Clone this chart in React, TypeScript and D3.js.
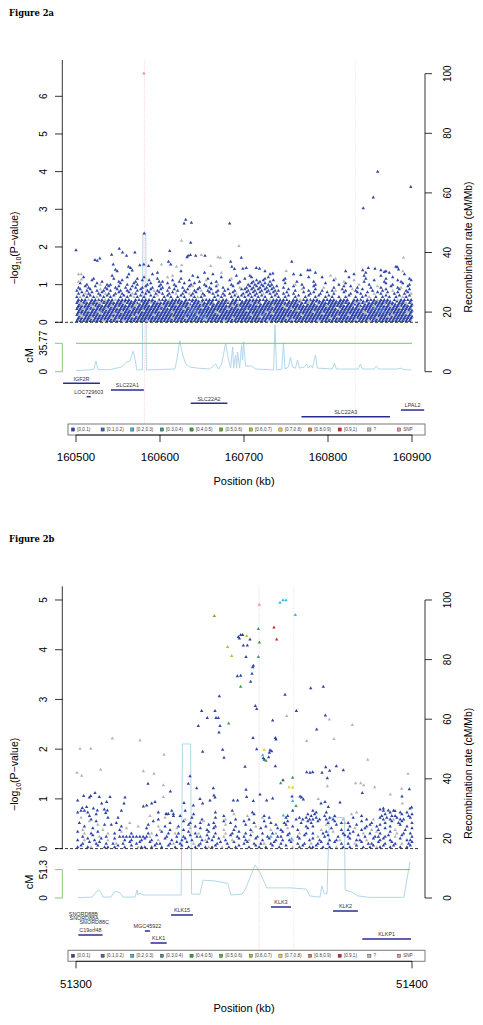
import React from 'react';
import * as d3 from 'd3';

type Pair = [number, number];
type Triple = [number, number, number];
type GridRow = [number, number, string];
type Gene = { name: string; start: number; end: number; row: number };

const LD_LABELS = ['[0,0.1)', '[0.1,0.2)', '[0.2,0.3)', '[0.3,0.4)', '[0.4,0.5)', '[0.5,0.6)', '[0.6,0.7)', '[0.7,0.8)', '[0.8,0.9)', '[0.9,1)', '?', 'SNP'];
const LD_COLORS = ['#2f45a6', '#3d63c2', '#3fb3e6', '#3f9690', '#3e9e3e', '#6aae2c', '#b4c52a', '#e5d52a', '#e8782c', '#d9252b', '#b5b5b5', '#ef8d9a'];
// grid characters: lower case = point at the row value, upper case = point half a row higher
const GRID_CODES: Record<string, number> = { x: 0, l: 1, c: 2, o: 10 };

// ---------------- Figure 2a ----------------
const aTitle = 'Figure 2a';
const aRange: Pair = [160500, 160900];
const aXTicks = [160500, 160600, 160700, 160800, 160900];
const aYMax = 6.6;
const aYTicks = [0, 1, 2, 3, 4, 5, 6];
const aCmMax = 35.77;
const aIndexSnp: Pair = [160580.8, 6.61];
const aMarkers = [160581.4, 160832.5];
const aMap: Pair[] = [[160500, 35.77], [160900, 35.77]];
const aRecomb: Pair[] = [
  [160500, 0.4], [160516.6, 0.6], [160521.4, 0.9], [160523.8, 3.6], [160526.1, 0.7], [160540.4, 0.7],
  [160554.6, 1.6], [160559.4, 3.1], [160564.1, 3.6], [160568.1, 6.9], [160570.1, 4.6], [160572.4, 0.6],
  [160579, 0.6], [160579.6, 46.5], [160583.1, 46.5], [160583.7, 0.6], [160617.6, 0.9], [160620, 3.9],
  [160623.5, 10.4], [160627.1, 5.6], [160630.6, 2.6], [160635.4, 1.6], [160644.9, 1.2], [160659.1, 0.9],
  [160666.3, 2.6], [160669.8, 0.9], [160673.4, 2.6], [160678.1, 9.5], [160681.7, 3.9], [160684.1, 1.2],
  [160686.5, 8.3], [160687.6, 1.2], [160690, 5.6], [160691.2, 1.2], [160692.4, 6.6], [160694.8, 1.2],
  [160697.1, 9.0], [160698.3, 3.9], [160699.5, 10], [160701.9, 1.9], [160709, 1.9], [160713.8, 0.9],
  [160735.2, 0.6], [160736.9, 15.7], [160738.7, 0.6], [160745, 0.9], [160747, 9.6], [160748.8, 0.9],
  [160753, 1.6], [160755.3, 4.9], [160757.7, 1.6], [160761.3, 1.2], [160763.7, 3.9], [160766, 1.2],
  [160772, 1.6], [160774.3, 2.6], [160776.7, 1.2], [160779.1, 2.2], [160781.5, 1.2], [160785, 5.6],
  [160787.4, 1.2], [160805.2, 0.9], [160807.6, 2.9], [160810, 0.9], [160836.1, 0.9], [160838.5, 2.6],
  [160840.9, 0.9], [160855.1, 0.9], [160857.5, 1.9], [160859.9, 0.9], [160882.4, 0.9], [160886.0, 1.2],
  [160890.7, 0.7], [160899, 0.6],
];
const aGenes: Gene[] = [
  { name: 'IGF2R', start: 160484.6, end: 160528.5, row: 0 },
  { name: 'SLC22A1', start: 160541.6, end: 160580.8, row: 1 },
  { name: 'LOC729603', start: 160512.7, end: 160517.5, row: 2 },
  { name: 'SLC22A2', start: 160636.6, end: 160680.2, row: 3 },
  { name: 'LPAL2', start: 160886.8, end: 160914.5, row: 4 },
  { name: 'SLC22A3', start: 160768.4, end: 160873.8, row: 5 },
];
const aGeneRows = 6;
const aGridStep = 4;
const aGridHalf = 0.04;
const aGrid: GridRow[] = [
  [1.32, 160501, '.......... ..X....... ....x..... .X......x. ...o...... ......X... .......... .x........ X.....x... ...x...O..'],
  [1.24, 160503, 'O......... x....X.... ..X.....o. ....x..... X......x.. .x.....X.. ....X..... .....o.... ..X..x.... x......X..'],
  [1.16, 160501, '..X..x.... .x...X..x. X...x..O.. .x....X..x ...X..o... x.X...xX.. ..x......X ...X...o.. .X....x... ..x.X....x'],
  [1.08, 160503, 'o...X..x.. ..xX...x.X .X..xx..X. x..X..x.O. .x...X..x. ..xXxX.xX. .X...x.... x.....X..o ..O..x..X. .x...Xx..X'],
  [1.00, 160501, '.X.x..Xo.x x..X.x.Xx. .xX..x.X.x ..X.xX..x. X.o...x.X. .xXxXxXxx. ..X..o.x.. .x..X...x. X...o..x.. ..X.x..X.x'],
  [0.92, 160503, 'x.Xx.X..xX .xX.x.Xx.x X.x.Xx.x.X .x.XO.x.Xx .X.x..X.o. xXxXxXxXxX .x..X..x.. X..o..x..X .X.x...x.O x..X.xo.X.'],
  [0.84, 160501, 'xX.xX.xOxX x.Xx.xX.xX .xXoxX.x.X x.xX.xXo.x X.x.xX.x.X XxXxXxXxXx x..X.x.O.x .X.x..xo.X x.Ox.X..x. .xX.o.X.xX'],
  [0.76, 160503, 'xXoxX.xXox .xXx.Xox.X xX.xXx.xXo .xXoxX.x.X xX.x.xXo.x XxXxXoXxXx .xX.x..X.x X.x.X.x..X .x.Xx.X.oX x.X.xX.xXo'],
  [0.68, 160501, 'xoXxXxoXxX xX.xXxXoxX x.XxO.xXx. xXx.XxoxX. .xXxX.xXxX xXxXxXx.xX x.xX.xX.xX .xX.xXx.x. xX.x.xXo.x .xXx.xXoxX'],
  [0.60, 160503, 'xxxoxxxxox xoxxxx.xxx xxx.xxxoxx x.xxxx.xxx xxoxx.xxx. xxxxxxxoxx xxx.xxoxxx xx.xxxx.xx x.xxx.xxxo xxx.xoxxxx'],
  [0.56, 160502, 'xxx.xxoxxx x.xxxxxx.x xxxxo.xxxx xxx.xxxx.x x.xxxoxx.x xxxxx.xxxx xx.xxxx.xo xxxx.xxxxx x.xxoxx.xx xxxx.xxx.x'],
  [0.52, 160501, 'xoxxxxxoxx xxxxoxxxx. xxoxxxxxxx xxxx.xxoxx x.xxxxxxox xxoxx.xxxx xxxxxx.xxo x.xxxxxxxx xxxoxx.xxx xxxxx.xxox'],
  [0.48, 160504, 'xoxxxxx.xx xxxx.xxoxx x.xxxxxxxo xxxxxlxxxx xxxx.xxxxx xxxoxxxxxx xxxxxxx.xx xoxxxxxxx. xxxx.xxxxx xoxxxxxx.x'],
  [0.44, 160503, 'xxxxoxxxxx oxxxxxxoxx xxxxxoxxxx xxxoxxxxx. xxxxxxoxxx xxxxxxxxox xoxxxxxxxx xxxxoxxxxx xx.xxxxxox xxxoxxxxxx'],
  [0.40, 160502, 'xxxxxoxxxx xxoxxxxxxx xxxxxxx.xx xlxxxxxoxx xxxxxxxxox xxxxxxxxxx xxoxxxxxxx xxxxxxx.xx xxxxoxxxxl lxxxxxoxxx'],
  [0.36, 160501, 'xxoxxxxxxo xxxxxxoxxx xxxxxxxxxx xxoxllxxxx xxxxxoxxxx xxxxlxxxxx xxxxoxxxxx xxxxxxxxox xxxxxxxxll xlxxxxxxxx'],
  [0.32, 160504, 'xxxoxxxxxx xxxxxxxxxo xxxxoxxxxx xxxxllxxxx xxxxxxxxxx oxxxxxxlxx xxxxxoxxxx xxxxxxxxxx xxxxxxxxxx lxxxxxxxxx'],
  [0.28, 160503, 'xxxxxxoxxx xxxoxxxxxx xxxxxxxxox xxxlllxxxx xoxxxxxxxx xxxxxxoxlx xxxxxxxxxx oxxxxxxxxx xxxxxoxxxl llxlxxxxox'],
  [0.24, 160502, 'xxxxxxxoxx xoxxxxxxxx xxxxxxxxxx xxxlxxxxlx xxoxxxxxxx xxxxxxxxox xxxxxxxxxx xxxoxxxxxx xxxxxxoxxx xxxxxxxxox'],
  [0.20, 160501, 'xoxxxxxxxx xxxxxxxxox xxxoxxxxxx xxlxxxoxlx xxxxxxxxxx xxoxxllxxx xxxxxxxoxx xxxxxxxxxx xoxxxxxxxx xxxxoxxxxx'],
  [0.16, 160504, 'xoxxxxxxxx xxxxxxoxxx xxxxxxxxxx xxxxxxlxxx xxxxxxxxxx xxxxoxxxxx xxxxxxxxxx xxxxxxxoxx xxxxxxxxxx xxoxxxxxxx'],
  [0.12, 160503, 'xxxxoxxxxx oxxxxxxxxx xxxxxxxxox xxoxlxxllx xxxxxxoxxx xxxxxxxxxx xxoxxxxxxx xxxxxoxxxx xxxxxxxxxo xxxxxxxxxx'],
  [0.08, 160502, 'xxxxxxxxxx xxoxxxxxxx xxxxxxxxxx xxxxxxxxox xxxxxxxxxx xxxxxxxxxx xxxxoxxxxx xxxxxxxxxx xxxoxxxxxx xxxxxxxxxx'],
  [0.04, 160501, 'xxxxxxxxox xxxxoxxxxx xoxxxxxxxx xxxxxxxxxx xxxxoxxxxx xxxxxxxoxx xxxxxxxxxx xxoxxxxxxx xxxxxxxoxx xxxxxxxxxx'],
];
const aGray: Pair[] = [
  [160625.5, 2.17], [160694.0, 2.03], [160506.3, 1.28], [160506.3, 1.14], [160669.0, 1.73], [160889.9, 1.72],
  [160601.7, 1.54], [160619.6, 1.48], [160625.9, 1.52], [160750.2, 1.37], [160660.3, 1.50], [160671.8, 1.72],
  [160649.2, 1.79],
];
const aBlue: Pair[] = [
  [160581.2, 2.36], [160500.0, 1.92], [160859.1, 4.00], [160853.9, 3.32], [160842.0, 3.03], [160898.6, 3.60],
  [160630.6, 2.73], [160628.7, 2.63], [160637.4, 2.65], [160682.9, 2.63], [160636.6, 2.12], [160611.6, 1.90],
  [160551.5, 1.96], [160555.4, 1.86], [160560.2, 1.77], [160570.1, 1.86], [160633.4, 1.77], [160636.2, 1.79],
  [160632.2, 1.73], [160544.3, 1.54], [160525.3, 1.64], [160528.5, 1.70], [160522.6, 1.66], [160696.8, 1.72],
  [160642.5, 1.77], [160653.6, 1.77], [160756.9, 1.61], [160684.1, 1.61], [160576.0, 1.52], [160580.8, 1.54],
  [160586.3, 1.50], [160589.9, 1.65], [160610.1, 1.61], [160612.8, 1.54], [160562.5, 1.48], [160542.4, 1.80],
  [160880.8, 1.48], [160884.0, 1.41], [160882.5, 1.47], [160841.3, 1.39], [160848.0, 1.45], [160855.9, 1.43],
  [160863.0, 1.39], [160867.0, 1.34], [160714.6, 1.45], [160734.4, 1.30], [160698.7, 1.43], [160778.7, 1.39],
  [160775.9, 1.39], [160767.6, 1.26], [160869.0, 1.36], [160546.9, 1.40], [160567.0, 1.38], [160685.5, 1.48],
  [160688.7, 1.42], [160565.0, 1.45], [160702.7, 1.45], [160718.5, 1.43],
];
const aColored: Triple[] = [];

// ---------------- Figure 2b ----------------
const bTitle = 'Figure 2b';
const bRange: Pair = [51300, 51400];
const bXTicks = [51300, 51400];
const bYMax = 5.0;
const bYTicks = [0, 1, 2, 3, 4, 5];
const bCmMax = 51.3;
const bIndexSnp: Pair = [51354.56, 4.91];
const bMarkers = [51354.5, 51364.8];
const bMap: Pair[] = [[51300.6, 51.3], [51399.4, 51.3]];
const bRecomb: Pair[] = [
  [51300.6, 0.1], [51304.8, 0.3], [51305.7, 1.7], [51306.8, 2.7], [51307.4, 2.0], [51308, 0.3],
  [51310.4, 0.3], [51311.3, 2.0], [51312.2, 2.1], [51313.1, 1.7], [51314, 0.3], [51317.6, 0.3],
  [51318.2, 2.7], [51318.5, 1.0], [51319, 1.7], [51320, 1.0], [51331.3, 1.0], [51331.7, 51.7],
  [51334.1, 51.7], [51334.4, 1.3], [51336.9, 1.3], [51337.8, 6.0], [51341.4, 5.7], [51345.2, 4.9],
  [51346.1, 1.0], [51349.4, 1.3], [51350.3, 2.7], [51353.3, 11.1], [51354.8, 8.4], [51356.8, 3.4],
  [51363.7, 3.4], [51368.5, 3.0], [51369.6, 0.7], [51372.6, 0.3], [51373.2, 4.1], [51373.8, 1.7],
  [51374.7, 1.3], [51375.4, 27], [51379.9, 27], [51380.1, 2.7], [51382.1, 2.0], [51383.9, 0.7],
  [51387.5, 0.2], [51397.6, 0.2], [51399.4, 12.2],
];
const bGenes: Gene[] = [
  { name: 'KLK3', start: 51358.0, end: 51364.0, row: 0 },
  { name: 'KLK2', start: 51376.5, end: 51383.9, row: 1 },
  { name: 'KLK15', start: 51328.3, end: 51334.8, row: 2 },
  { name: 'SNORD88B', start: 51302.15, end: 51302.25, row: 3 },
  { name: 'SNORD88A', start: 51302.35, end: 51302.45, row: 4 },
  { name: 'SNORD88C', start: 51305.35, end: 51305.45, row: 5 },
  { name: 'MGC45922', start: 51320.5, end: 51322.0, row: 6 },
  { name: 'C19orf48', start: 51300.7, end: 51307.9, row: 7 },
  { name: 'KLKP1', start: 51385.2, end: 51399.7, row: 8 },
  { name: 'KLK1', start: 51322.2, end: 51327.0, row: 9 },
];
const bGeneRows = 10;
const bGridStep = 1;
const bGridHalf = 0.035;
const bGrid: GridRow[] = [
  [0.73, 51300.5, 'xXXx...... ...X...... ....x...X. ..X....... .x....X... ..x....... ....X..... Xx..x..... ...o...... .X.xX.x.x.'],
  [0.66, 51301.0, '...x.X.... .......... .o....X.x. x...X..... ...x..O... o.X..x.... ..x.....Xx X..x..x... .O..x..... xX.xx.X.xX'],
  [0.59, 51300.5, '.O..x....X ..X....... ....x.O... ..o.X..x.. .X..o..x.. .x...O.X.. ..X..xXxXx xXx.xXx..o ..X...x.o. XxXxoXxx.X'],
  [0.52, 51301.0, 'x..O.X.... .x...o.... ..X....x.. .X.x..xO.. x..X.x...X ..x..X.x.. .xX...x.Xx .X..x.X.xo x...X..x.. .x.X.xX..x'],
  [0.45, 51300.5, '..x...O.X. X..x....o. .X..o.x... x..X.x...X .x..O..x.. X..o..x..X ..X.x...x. x...O..X.. .x.X..xX.x X..x..X.x.'],
  [0.38, 51301.0, '.o..X..o.. ..x.O..... X...o..x.O .x.O..X.x. X..o..x... .x..X..o.X x.O..x..X. ..o..X..x. x.O.xX.o.x .X..o..x.X'],
  [0.31, 51300.5, 'X.o.x.X..o .x.O..x... .xo..X.x.o x..X.xo..X .x..o.x.X. x.O..x..xo .X.x..o.x. x..xX.O..x .xX..o.x.O x..X.o.x.x'],
  [0.24, 51301.0, '.x..X.o.x. ..xxxxxxxx xo.X..x..x .x.X.xl.X. x..o.X.x.x .X.x..xc.x x.X..x.X.. .o.xX..x.X x..X.x..xx .xX.o.X..x'],
  [0.17, 51300.5, 'x.oX.x.X.o .X..x.x..x X.x.o.X.x. .xX.x..xoX x.X.x.o.X. xo.X.x.X.x .x.xo.X..x X.x..x.xo. .X.xx.o.X. xX.x..X.xx'],
  [0.10, 51301.0, '.x.X.xX.x. xo.x.X.xX. .X.xx..xoX x.X.o.x.X. .xX.x.X..x X.x.xo.xX. x..X.x.x.o .xX.x.X.x. x.o.X.xx.X .x.Xx.o.xX'],
  [0.03, 51300.5, 'xX.xo.X.xx .xX.x.X.ox x.xX.x.X.x .X.x.xX.xo xX.o.x.xX. .x.Xx.x.X. x.X.o.xX.x xX.x.x.o.x .x.X.x.xXo xX.xX.x.xX'],
];
const bGray: Pair[] = [
  [51362.70, 2.67], [51375.40, 2.60], [51382.24, 2.49], [51368.65, 2.17], [51376.79, 2.21], [51386.81, 1.79],
  [51326.19, 1.89], [51319.05, 2.18], [51310.81, 2.22], [51301.19, 2.01], [51304.37, 2.01], [51300.30, 1.53],
  [51301.69, 1.47], [51307.34, 1.59], [51320.04, 1.56], [51323.21, 1.51], [51325.99, 1.28], [51374.80, 1.26],
  [51383.23, 1.32], [51384.72, 1.32], [51385.62, 1.28], [51388.89, 1.24], [51393.55, 1.09], [51396.92, 1.21],
  [51398.81, 1.51], [51397.12, 0.91], [51326.0, 1.04], [51372.1, 1.0],
];
const bBlue: Pair[] = [
  [51348.31, 4.26], [51349.01, 4.30], [51349.60, 4.30], [51348.61, 4.23], [51351.79, 4.21], [51349.80, 4.09],
  [51350.99, 4.09], [51350.60, 3.86], [51352.78, 3.68], [51352.58, 3.65], [51352.38, 3.52], [51348.02, 3.47],
  [51349.01, 3.48], [51351.98, 3.36], [51342.66, 3.07], [51353.37, 2.87], [51353.77, 2.81], [51362.20, 3.10],
  [51365.58, 2.77], [51337.40, 2.77], [51341.37, 2.77], [51339.09, 2.63], [51341.67, 2.63], [51342.36, 2.63],
  [51336.41, 2.47], [51342.86, 2.47], [51342.56, 2.34], [51358.53, 2.58], [51369.84, 3.23], [51373.61, 3.26],
  [51374.21, 2.68], [51371.63, 2.40], [51352.68, 2.23], [51359.33, 2.23], [51359.52, 2.20], [51337.70, 1.95],
  [51343.65, 1.99], [51344.05, 1.83], [51353.77, 2.00], [51357.74, 1.98], [51358.23, 1.96], [51357.54, 1.93],
  [51357.34, 1.84], [51355.75, 1.82], [51356.05, 1.79], [51359.33, 1.66], [51350.30, 1.65], [51333.93, 1.46],
  [51333.43, 1.31], [51321.43, 1.31], [51328.08, 1.15], [51335.91, 1.22], [51340.87, 1.22], [51341.07, 1.07],
  [51341.37, 1.03], [51368.65, 1.54], [51369.64, 1.53], [51370.44, 1.54], [51373.21, 1.53], [51374.31, 1.64],
  [51375.50, 1.57], [51377.48, 1.66], [51379.56, 1.58], [51374.80, 1.42], [51361.61, 1.38], [51350.60, 1.19],
  [51354.76, 1.09], [51364.29, 1.05], [51366.67, 1.05], [51367.16, 1.03], [51367.66, 0.99], [51385.22, 1.12],
  [51397.02, 1.05], [51399.21, 1.20], [51300.50, 0.97], [51301.88, 0.82], [51302.28, 1.06], [51303.97, 1.03],
  [51304.37, 1.06], [51305.65, 1.12], [51306.94, 1.04], [51310.12, 1.04], [51314.58, 1.03], [51309.13, 0.94],
  [51314.29, 0.91], [51307.64, 0.91], [51320.04, 0.85], [51321.03, 0.87], [51322.52, 0.91], [51323.51, 0.94],
  [51308.43, 0.79], [51308.83, 0.72], [51309.33, 0.77], [51303.17, 0.84], [51305.16, 0.81], [51306.35, 0.77],
  [51326.79, 0.70], [51327.48, 0.70], [51328.97, 0.70], [51332.14, 0.92], [51334.92, 0.87], [51336.90, 1.00],
  [51337.70, 0.91], [51339.88, 0.97], [51346.83, 0.97], [51348.12, 0.97], [51350.79, 1.04], [51352.78, 0.96],
  [51356.75, 0.97], [51358.53, 1.01], [51372.92, 0.91], [51374.11, 0.94], [51375.10, 0.84], [51378.57, 0.93],
  [51390.48, 0.79], [51391.47, 0.81], [51392.96, 0.77], [51394.94, 0.76], [51399.40, 0.81], [51399.9, 0.83],
];
const bColored: Triple[] = [
  [51341.17, 4.68, 5], [51360.71, 4.95, 2], [51361.61, 5.00, 2], [51362.50, 5.00, 2], [51365.28, 4.70, 2],
  [51354.27, 4.42, 3], [51358.93, 4.45, 9], [51359.72, 4.21, 9], [51354.56, 4.15, 4], [51354.27, 3.86, 3],
  [51350.79, 4.28, 6], [51345.14, 4.06, 6], [51346.33, 3.88, 6], [51349.01, 3.26, 4], [51345.44, 2.52, 4],
  [51356.05, 1.99, 7], [51355.56, 1.88, 2], [51356.55, 1.77, 4], [51364.48, 1.43, 4], [51360.91, 1.32, 4],
  [51363.39, 1.24, 7], [51364.48, 1.23, 7], [51365.48, 0.86, 4], [51364.48, 0.96, 2], [51361.7, 0.67, 2],
  [51364.2, 0.20, 2],
];

type PanelCfg = {
  title: string; range: Pair; xTicks: number[]; yMax: number; yTicks: number[]; cmMax: number;
  indexSnp: Pair; markers: number[]; map: Pair[]; recomb: Pair[]; genes: Gene[]; geneRows: number;
  grid: GridRow[]; gridStep: number; gridHalf: number; gray: Pair[]; blue: Pair[]; colored: Triple[];
};

const panelA: PanelCfg = {
  title: aTitle, range: aRange, xTicks: aXTicks, yMax: aYMax, yTicks: aYTicks, cmMax: aCmMax,
  indexSnp: aIndexSnp, markers: aMarkers, map: aMap, recomb: aRecomb, genes: aGenes, geneRows: aGeneRows,
  grid: aGrid, gridStep: aGridStep, gridHalf: aGridHalf, gray: aGray, blue: aBlue, colored: aColored,
};
const panelB: PanelCfg = {
  title: bTitle, range: bRange, xTicks: bXTicks, yMax: bYMax, yTicks: bYTicks, cmMax: bCmMax,
  indexSnp: bIndexSnp, markers: bMarkers, map: bMap, recomb: bRecomb, genes: bGenes, geneRows: bGeneRows,
  grid: bGrid, gridStep: bGridStep, gridHalf: bGridHalf, gray: bGray, blue: bBlue, colored: bColored,
};

const SANS = '"Liberation Sans", Arial, Helvetica, sans-serif';
const GREEN = '#79c65a';
const RECOMB = '#a9d3e6';

function buildPoints(cfg: PanelCfg): Triple[] {
  const gridPts: Triple[] = [];
  cfg.grid.forEach(([val, start, pattern]) => {
    const s = pattern.replace(/ /g, '');
    for (let i = 0; i < s.length; i++) {
      const ch = s[i];
      const lc = ch.toLowerCase();
      if (lc in GRID_CODES) {
        const v = ch === lc ? val : val + cfg.gridHalf;
        gridPts.push([start + i * cfg.gridStep, v, GRID_CODES[lc]]);
      }
    }
  });
  // dark blue first, lighter classes on top so they stay visible in the dense band
  const pts: Triple[] = [
    ...gridPts.filter((p) => p[2] === 0),
    ...gridPts.filter((p) => p[2] !== 0),
  ];
  cfg.gray.forEach(([k, v]) => pts.push([k, v, 10]));
  cfg.blue.forEach(([k, v]) => pts.push([k, v, 0]));
  cfg.colored.forEach((p) => pts.push(p));
  pts.push([cfg.indexSnp[0], cfg.indexSnp[1], 11]);
  return pts;
}

function Panel({ cfg, dy }: { cfg: PanelCfg; dy: number }) {
  const x = d3.scaleLinear().domain(cfg.range).range([76, 412]);
  const y = d3.scaleLinear().domain([0, cfg.yMax]).range([322.3, 73.7]);
  const rec = d3.scaleLinear().domain([0, 100]).range([371.7, 73.7]);
  const cm = d3.scaleLinear().domain([0, cfg.cmMax]).range([371.7, 343.3]);
  const geneY = d3.scaleLinear().domain([-1, cfg.geneRows - 1]).range([376.7, 416.7]);
  const legX = d3.scaleLinear().domain([0, LD_LABELS.length - 1]).range([73, 399]);
  const recLine = d3.line<Pair>().x((d) => x(d[0])).y((d) => rec(d[1]));
  const mapLine = d3.line<Pair>().x((d) => x(d[0])).y((d) => cm(d[1]));
  const pts = buildPoints(cfg);
  const axisX = 62.3;

  return (
    <g transform={`translate(0,${dy})`} fontFamily={SANS}>
      <text x={9} y={15.8} fontFamily='"DejaVu Serif", "Liberation Serif", serif' fontWeight="bold" fontSize={8.4}>
        {cfg.title}
      </text>

      {cfg.markers.map((m, i) => (
        <line key={'m' + i} x1={x(m)} x2={x(m)} y1={60} y2={424} stroke={i === 0 ? '#f2c3ca' : '#dcdce6'}
          strokeWidth={0.7} strokeDasharray="1.2,1.2" />
      ))}

      <path d={recLine(cfg.recomb) || ''} fill="none" stroke={RECOMB} strokeWidth={0.9} />
      <path d={mapLine(cfg.map) || ''} fill="none" stroke={GREEN} strokeWidth={1} />

      <g>
        {pts.map(([k, v, c], i) => {
          const px = x(k), py = y(v);
          return <path key={i} d={`M${px.toFixed(2)},${(py - 1.8).toFixed(2)}l1.7,3h-3.4z`} fill={LD_COLORS[c]} />;
        })}
      </g>

      <line x1={55} x2={418} y1={y(0)} y2={y(0)} stroke="#000" strokeWidth={0.8} strokeDasharray="3,2" />

      <line x1={axisX} x2={axisX} y1={60} y2={y(0)} stroke="#000" strokeWidth={0.8} />
      {cfg.yTicks.map((t) => (
        <g key={'yt' + t}>
          <line x1={55} x2={axisX} y1={y(t)} y2={y(t)} stroke="#000" strokeWidth={0.8} />
          <text transform={`translate(46.5,${y(t)}) rotate(-90)`} textAnchor="middle" fontSize={10}>{t}</text>
        </g>
      ))}
      <text transform="translate(18,248) rotate(-90)" textAnchor="middle" fontSize={10.5}>
        −log<tspan fontSize={7} dy={2.5}>10</tspan><tspan dy={-2.5}>(P−value)</tspan>
      </text>

      <line x1={axisX} x2={axisX} y1={cm(0)} y2={cm(cfg.cmMax)} stroke={GREEN} strokeWidth={0.9} />
      {[0, cfg.cmMax].map((t) => (
        <g key={'cm' + t}>
          <line x1={55} x2={axisX} y1={cm(t)} y2={cm(t)} stroke={GREEN} strokeWidth={0.9} />
          <text transform={`translate(46.5,${cm(t)}) rotate(-90)`} textAnchor="middle" fontSize={10}>{t}</text>
        </g>
      ))}
      <text transform="translate(32.5,355.5) rotate(-90)" textAnchor="middle" fontSize={11}>cM</text>

      <line x1={425} x2={425} y1={rec(0)} y2={rec(100)} stroke="#000" strokeWidth={0.8} />
      {[0, 20, 40, 60, 80, 100].map((t) => (
        <g key={'rt' + t}>
          <line x1={425} x2={432} y1={rec(t)} y2={rec(t)} stroke="#000" strokeWidth={0.8} />
          <text transform={`translate(450.5,${rec(t)}) rotate(-90)`} textAnchor="middle" fontSize={10}>{t}</text>
        </g>
      ))}
      <text transform="translate(471.5,247) rotate(-90)" textAnchor="middle" fontSize={10.4}>
        Recombination rate (cM/Mb)
      </text>

      {cfg.genes.map((g) => {
        const gy = geneY(g.row);
        return (
          <g key={g.name}>
            <line x1={x(g.start)} x2={x(g.end)} y1={gy} y2={gy} stroke="#2c2c8e" strokeWidth={1.5} />
            <text x={x((g.start + g.end) / 2)} y={gy - 2.8} textAnchor="middle" fontSize={5.4} fill="#333">{g.name}</text>
          </g>
        );
      })}

      <rect x={68} y={424} width={357} height={11} fill="#fff" stroke="#7a7a7a" strokeWidth={1} />
      {LD_LABELS.map((lab, i) => (
        <g key={'lg' + i}>
          <rect x={legX(i) - 1.6} y={427.9} width={3.2} height={3.2} fill={LD_COLORS[i]} stroke="#333" strokeWidth={0.4} />
          <text x={legX(i) + 4.2} y={431.2} fontSize={4.6} fill="#444">{lab}</text>
        </g>
      ))}

      <line x1={x(cfg.range[0])} x2={x(cfg.range[1])} y1={435} y2={435} stroke="#000" strokeWidth={0.8} />
      {cfg.xTicks.map((t) => (
        <g key={'xt' + t}>
          <line x1={x(t)} x2={x(t)} y1={435} y2={442} stroke="#000" strokeWidth={0.8} />
          <text x={x(t)} y={461.3} textAnchor="middle" fontSize={11.5}>{t}</text>
        </g>
      ))}
      <text x={244} y={485.3} textAnchor="middle" fontSize={11}>Position (kb)</text>
    </g>
  );
}

export default function App() {
  return (
    <svg width={483} height={1025} viewBox="0 0 483 1025"
      style={{ position: 'absolute', left: 0, top: 0, background: '#fff' }}>
      <rect x={0} y={0} width={483} height={1025} fill="#fff" />
      <Panel cfg={panelA} dy={0} />
      <Panel cfg={panelB} dy={526.3} />
    </svg>
  );
}
